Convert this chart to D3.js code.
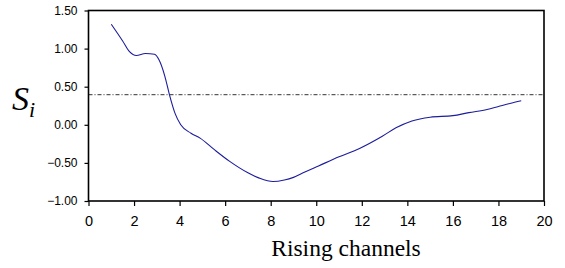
<!DOCTYPE html>
<html>
<head>
<meta charset="utf-8">
<script src="https://cdn.jsdelivr.net/npm/d3@7"></script>
<style>
  body { margin: 0; background: #fff; }
  svg { display: block; }
</style>
</head>
<body>
<div id="chart"></div>
<script>
// channel index vs S_i
var channels = [1, 1.5, 1.8, 2.1, 2.5, 2.9, 3.1, 3.35, 3.55, 3.8, 4.05, 4.5, 4.9, 5.5, 6.2, 7.0, 7.5, 8.1, 8.6, 9.0, 9.5, 10.1, 11.0, 11.9, 12.9, 13.5, 14.2, 15.0, 16.0, 16.7, 17.5, 18.0, 18.5, 19.0]
var sValues = [1.32, 1.10, 0.96, 0.91, 0.935, 0.925, 0.85, 0.64, 0.40, 0.15, 0.00, -0.11, -0.175, -0.32, -0.48, -0.63, -0.70, -0.745, -0.725, -0.69, -0.62, -0.54, -0.42, -0.31, -0.15, -0.04, 0.05, 0.10, 0.12, 0.16, 0.20, 0.24, 0.28, 0.315]
var threshold = 0.395
var xTicks = [0, 2, 4, 6, 8, 10, 12, 14, 16, 18, 20]
var yTicks = [-1.0, -0.5, 0.0, 0.5, 1.0, 1.5]

var width = 565, height = 268
var margin = {top: 10.5, left: 88.5, right: 21, bottom: 67}

var svg = d3.select("#chart")
    .append("svg")
    .attr("width", width)
    .attr("height", height)

var x = d3.scaleLinear().domain([0, 20]).range([margin.left, width - margin.right])
var y = d3.scaleLinear().domain([-1, 1.5]).range([height - margin.bottom, margin.top])

// threshold line
svg.append("line")
    .attr("x1", x(0)).attr("x2", x(20))
    .attr("y1", y(threshold)).attr("y2", y(threshold))
    .attr("stroke", "#333")
    .attr("stroke-width", 1)
    .attr("stroke-dasharray", "4,2,1,2")

// curve
var line = d3.line()
    .x((d, i) => x(channels[i]))
    .y(d => y(d))
    .curve(d3.curveMonotoneX)

svg.append("path")
    .datum(sValues)
    .attr("d", line)
    .attr("fill", "none")
    .attr("stroke", "#1c1c9c")
    .attr("stroke-width", 1.1)

// frame
svg.append("rect")
    .attr("x", x(0)).attr("y", y(1.5))
    .attr("width", x(20) - x(0))
    .attr("height", y(-1) - y(1.5))
    .attr("fill", "none")
    .attr("stroke", "#000")
    .attr("stroke-width", 1.6)

// y axis
var yAxis = svg.append("g")
    .attr("transform", "translate(" + x(0) + ",0)")
    .call(d3.axisLeft(y).tickValues(yTicks).tickFormat(d3.format(".2f")).tickSizeOuter(0).tickSizeInner(4).tickPadding(7))
yAxis.select(".domain").remove()
yAxis.selectAll("line").attr("stroke", "#000").attr("stroke-width", 1.2)
yAxis.selectAll("text")
    .attr("font-family", "Liberation Sans, Arial, sans-serif")
    .attr("font-size", 12)
    .attr("fill", "#000")

// x axis
var xAxis = svg.append("g")
    .attr("transform", "translate(0," + y(-1) + ")")
    .call(d3.axisBottom(x).tickValues(xTicks).tickFormat(d3.format("d")).tickSizeOuter(0).tickSizeInner(5).tickPadding(10))
xAxis.select(".domain").remove()
xAxis.selectAll("line").attr("stroke", "#000").attr("stroke-width", 1.2)
xAxis.selectAll("text")
    .attr("font-family", "Liberation Sans, Arial, sans-serif")
    .attr("font-size", 14.5)
    .attr("fill", "#000")

// axis titles
svg.append("text")
    .attr("x", 346)
    .attr("y", 256)
    .attr("text-anchor", "middle")
    .attr("font-family", "Liberation Serif, Times New Roman, serif")
    .attr("font-size", 23.5)
    .text("Rising channels")

var yTitle = svg.append("text")
    .attr("x", 12)
    .attr("y", 110)
    .attr("font-family", "Liberation Serif, Times New Roman, serif")
    .attr("font-style", "italic")
    .attr("font-size", 34)
yTitle.append("tspan").text("S")
yTitle.append("tspan")
    .attr("font-size", 22)
    .attr("dy", 7)
    .text("i")
</script>
</body>
</html>
